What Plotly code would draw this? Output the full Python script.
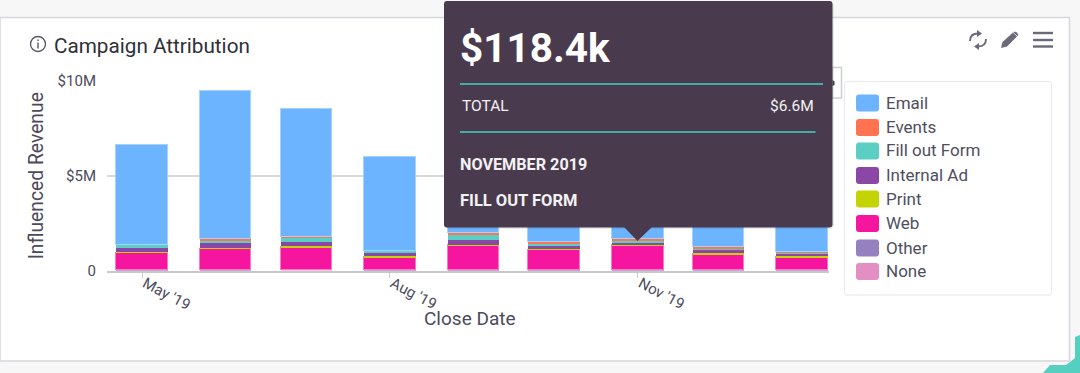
import plotly.graph_objects as go

W, H = 1080, 373
months = ["2019-05-01", "2019-06-01", "2019-07-01", "2019-08-01", "2019-09-01",
          "2019-10-01", "2019-11-01", "2019-12-01", "2020-01-01"]
none_v = [0.01, 0.02, 0.03, 0.01, 0.01, 0.01, 0.01, 0.01, 0.01]
other = [0.01, 0.02, 0.02, 0.01, 0.01, 0.01, 0.01, 0.01, 0.01]
web = [0.91, 1.12, 1.18, 0.68, 1.30, 1.07, 1.32, 0.83, 0.67]
print_v = [0.05, 0.05, 0.06, 0.05, 0.05, 0.05, 0.05, 0.05, 0.05]
internal = [0.20, 0.23, 0.24, 0.18, 0.23, 0.16, 0.07, 0.16, 0.12]
form = [0.17, 0.16, 0.20, 0.11, 0.30, 0.13, 0.118, 0.12, 0.11]
events = [0.01, 0.06, 0.05, 0.01, 0.07, 0.08, 0.06, 0.05, 0.01]
email = [5.24, 7.79, 6.73, 4.92, 5.2, 4.9, 4.96, 3.9, 4.8]

series_names = ["Email", "Events", "Fill out Form", "Internal Ad", "Print", "Web", "Other", "None"]
series_vals = [email, events, form, internal, print_v, web, other, none_v]
series_cols = ["#6cb4ff", "#ff7350", "#5bcfc3", "#8a47a6", "#c3d404", "#f5159f", "#9580c0", "#e38fc4"]
edge_cols = ["#a6d2ff", "#ff7350", "#5bcfc3", "#8a47a6", "#c3d404", "#fa78c8", "#9580c0", "#efbbdc"]
edge_wids = [1, 0, 0, 0, 0, 1, 0, 0]

y_ticks = [0, 5, 10]
y_labels = ["0", "$5M", "$10M"]
x_ticks = ["2019-05-01", "2019-08-01", "2019-11-01"]
x_labels = ["May '19", "Aug '19", "Nov '19"]

FONT = "Roboto"
INK = "#4b4a5c"
DARK = "#4a3a4e"
TEAL = "#45d2c2"


def X(p):
    return p / W


def Y(p):
    return 1 - p / H


def path_px(points):
    return "M" + " L".join(f"{X(a):.5f},{Y(b):.5f}" for a, b in points) + " Z"


def rrect(x0, y0, x1, y1, r):
    rx, ry = r / W, r / H
    a, b, c, d = X(x0), Y(y0), X(x1), Y(y1)
    return (f"M{a+rx},{b} L{c-rx},{b} Q{c},{b} {c},{b-ry} L{c},{d+ry} Q{c},{d} {c-rx},{d} "
            f"L{a+rx},{d} Q{a},{d} {a},{d+ry} L{a},{b-ry} Q{a},{b} {a+rx},{b} Z")


fig = go.Figure()
for i in range(len(series_names) - 1, -1, -1):
    fig.add_bar(x=months, y=series_vals[i], name=series_names[i], width=19.2 * 86400000,
                marker=dict(color=series_cols[i], line=dict(color=edge_cols[i], width=edge_wids[i])),
                showlegend=False)

shapes = []


def rect(x0, y0, x1, y1, fill=None, line=None, lw=1, layer="below"):
    shapes.append(dict(type="rect", xref="paper", yref="paper", x0=X(x0), x1=X(x1), y0=Y(y0), y1=Y(y1),
                       fillcolor=fill or "rgba(0,0,0,0)", line=dict(color=line or "rgba(0,0,0,0)", width=lw if line else 0),
                       layer=layer))


def poly(d, fill, layer="above", line=None, lw=0):
    shapes.append(dict(type="path", xref="paper", yref="paper", path=d, fillcolor=fill,
                       line=dict(color=line or "rgba(0,0,0,0)", width=lw), layer=layer))


def seg(x0, y0, x1, y1, color, lw=1, layer="above"):
    shapes.append(dict(type="line", xref="paper", yref="paper", x0=X(x0), x1=X(x1), y0=Y(y0), y1=Y(y1),
                       line=dict(color=color, width=lw), layer=layer))


# page decoration and card
poly(path_px([(1043, 373), (1050, 365), (1066, 365), (1075, 358), (1075, 337), (1080, 335), (1080, 373)]), "#55cfc0", layer="below")
rect(0.0, 17.5, 1069.5, 361, fill="#ffffff", line="#d6d6dc", lw=1.5)
rect(832, 67.5, 841.5, 98, fill="#ffffff", line="#cfcfcf", lw=1.5)

# legend panel
poly(rrect(844.5, 81.5, 1051.5, 295, 2), "#ffffff", layer="below", line="#e8e8ee", lw=1)
legend_y = [103, 127.5, 151, 175.5, 199, 223.5, 248, 271.5]
ann = []


def text(x, y, s, size=14, color=INK, anchor="left", angle=0, family=FONT):
    ann.append(dict(xref="paper", yref="paper", x=X(x), y=Y(y), text=s, showarrow=False, xanchor=anchor,
                    yanchor="middle", textangle=angle, font=dict(size=size, color=color, family=family),
                    borderpad=0, align=anchor))


for n, c, ly in zip(series_names, series_cols, legend_y):
    poly(rrect(856, ly - 8.5, 879, ly + 8.5, 3), c)
    text(884.5, ly - 0.5, n, size=17, color="#4f4e60")

# title and info icon
shapes.append(dict(type="circle", xref="paper", yref="paper", x0=X(30.5), x1=X(45.5), y0=Y(51.5), y1=Y(36.5),
                   line=dict(color="#55545f", width=1.3), fillcolor="rgba(0,0,0,0)"))
seg(38, 42.5, 38, 48.5, "#55545f", 1.4)
seg(38, 39.5, 38, 41, "#55545f", 1.4)
text(53, 46, "Campaign Attribution", size=20.7, color="#2f2f38")

# toolbar icons
for hy in [33, 40, 46.5]:
    seg(1033, hy, 1053, hy, "#6b6a78", 2.4)
poly(path_px([(1001, 48), (1002.5, 42), (1013, 32.5), (1017, 36.5), (1007, 46.5)]), "#6b6a78")
poly(path_px([(1014.5, 31.5), (1017, 32.5), (1018.5, 35), (1017.5, 36), (1013.5, 32.5)]), "#6b6a78")
shapes.append(dict(type="path", xref="paper", yref="paper", layer="above",
                   path=f"M{X(970)},{Y(41)} Q{X(970)},{Y(33.5)} {X(978)},{Y(33.5)} M{X(986)},{Y(39)} Q{X(986)},{Y(46.5)} {X(978)},{Y(46.5)}",
                   line=dict(color="#6b6a78", width=1.8)))
poly(path_px([(977, 30), (982, 33.5), (977, 37)]), "#6b6a78")
poly(path_px([(979, 43), (974, 46.5), (979, 50)]), "#6b6a78")

# tooltip
poly(rrect(445, 3, 834, 229, 4), "rgba(60,50,60,0.10)")
poly(rrect(444, 1, 832.5, 227.5, 3), DARK)
poly(path_px([(624, 227), (652, 227), (637.5, 241)]), DARK)
poly(path_px([(832.5, 80), (834.5, 81.5), (834.5, 85), (832.5, 86)]), "#3a3a3a")
seg(460, 84, 823, 84, TEAL, 1.4)
seg(460, 132, 815.5, 132, TEAL, 1.4)
text(458.5, 48, "<b>$118.4k</b>", size=40.5, color="#ffffff")
text(461, 105.5, "TOTAL", size=15.5, color="#f2f2f2")
text(815, 105.5, "$6.6M", size=15.5, color="#f2f2f2", anchor="right")
text(459, 164.5, "<b>NOVEMBER 2019</b>", size=16.2, color="#f2f2f2")
text(459, 200.5, "<b>FILL OUT FORM</b>", size=16.5, color="#f2f2f2")

# x axis title sits closer than plotly's standoff permits
text(470, 318, "Close Date", size=19, anchor="center")

fig.update_layout(
    width=W, height=H, autosize=False, margin=dict(l=0, r=0, t=0, b=0),
    paper_bgcolor="#f7f7f8", plot_bgcolor="rgba(0,0,0,0)", barmode="stack", bargap=0,
    font=dict(family=FONT, color=INK), shapes=shapes, annotations=ann,
    xaxis=dict(domain=[X(107), X(829)], type="date", range=["2019-04-18", "2020-01-11"],
               tickmode="array", tickvals=x_ticks, ticktext=x_labels, tickangle=28,
               ticks="outside", ticklen=6, tickcolor="#c8c8cc", showline=True, linecolor="#c8c8cc",
               linewidth=1.5, showgrid=False, zeroline=False, tickfont=dict(size=15, color=INK),
               ticklabelstandoff=-9, ticklabelshift=3, automargin=False),
    yaxis=dict(domain=[Y(270.5), Y(81)], range=[0, 10], tickmode="array", tickvals=y_ticks, ticktext=y_labels,
               showgrid=True, gridcolor="#d8d8dc", gridwidth=1.5, zeroline=False, showline=False,
               tickfont=dict(size=15, color=INK), ticks="", automargin=False, ticklabelstandoff=10,
               title=dict(text="Influenced Revenue", font=dict(size=19.3, color=INK), standoff=8)),
)

fig.write_html("out.html", config=dict(displayModeBar=False),
               post_script="document.body.style.margin='0';document.body.style.overflow='hidden';")
